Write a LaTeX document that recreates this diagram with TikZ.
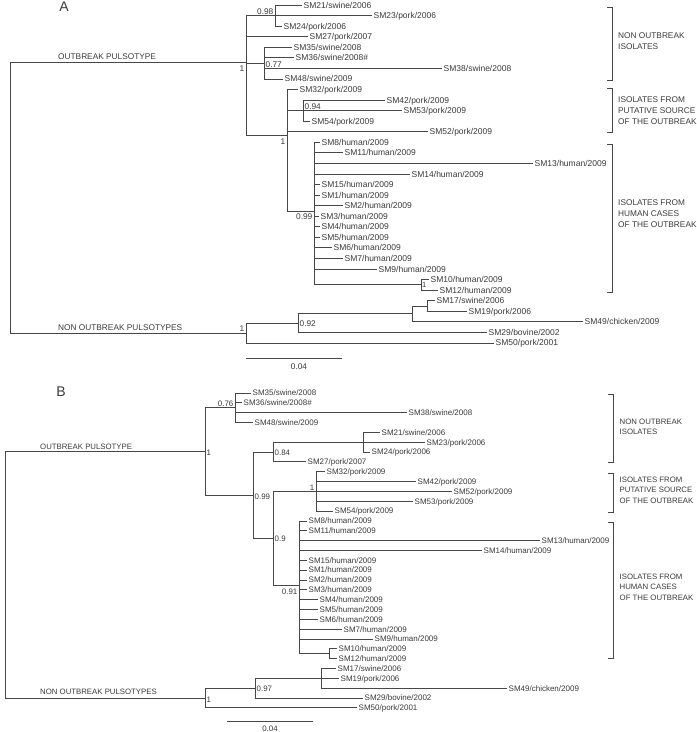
\documentclass[tikz,border=0pt]{standalone}
\usepackage{fontspec}
\setmainfont{Liberation Sans}
\definecolor{ink}{HTML}{3A3A3A}
\definecolor{lnc}{HTML}{474747}
\newcommand\lfa[5]{\node[lfA] (#1) at (#3,#4) {#5}; \draw[br] (#2 |- #1.west) -- (#1.west);}
\newcommand\lfb[5]{\node[lfB] (#1) at (#3,#4) {#5}; \draw[br] (#2 |- #1.west) -- (#1.west);}
\begin{document}
\begin{tikzpicture}[x=1pt,y=-1pt,
 br/.style={draw=lnc, line width=0.8pt},
 lfA/.style={anchor=west, inner xsep=1.5pt, inner ysep=0pt, text=ink, font=\fontsize{8.5}{10}\selectfont, text height=6.1pt, text depth=0pt},
 lfB/.style={lfA, font=\fontsize{8}{9.5}\selectfont, text height=5.7pt},
 supA/.style={inner sep=0pt, text=ink, font=\fontsize{8.3}{10}\selectfont},
 supB/.style={supA, font=\fontsize{7.9}{9.5}\selectfont},
 grpA/.style={anchor=west, inner sep=0pt, align=left, text=ink, font=\fontsize{8.3}{11}\selectfont},
 grpB/.style={grpA, font=\fontsize{7.8}{10.4}\selectfont},
 pulA/.style={anchor=west, inner sep=0pt, text=ink, font=\fontsize{8.3}{10}\selectfont, text height=5.9pt, text depth=0pt},
 pulB/.style={pulA, font=\fontsize{7.8}{10}\selectfont, text height=5.6pt},
 panel/.style={inner sep=0pt, text=ink, font=\fontsize{14}{16}\selectfont}
]
\useasboundingbox (0,0) rectangle (697,732);

% ================= PANEL A =================
\node[panel] (labA) at (64,7) {A};

\coordinate (aR) at (10,197.9);
\coordinate (aO) at (246,62.78);
\coordinate (a98) at (275,15.56);
\coordinate (a77) at (264,63.08);
\coordinate (a1) at (287,135.78);
\coordinate (a94) at (303,110.6);
\coordinate (a99) at (314,211.30);
\coordinate (a1b) at (421,284.84);
\coordinate (aN) at (246,333.02);
\coordinate (a92) at (298,323.12);
\coordinate (a412) at (412,313.88);
\coordinate (a427) at (427,305.96);

\lfa{aSM21}{a98}{302}{5.00}{SM21/swine/2006}
\lfa{aSM23}{a98}{372}{15.56}{SM23/pork/2006}
\lfa{aSM24}{a98}{282}{26.12}{SM24/pork/2006}
\lfa{aSM27}{aO}{308}{36.68}{SM27/pork/2007}
\lfa{aSM35}{a77}{292}{47.24}{SM35/swine/2008}
\lfa{aSM36}{a77}{294}{57.80}{SM36/swine/2008\#}
\lfa{aSM38}{a77}{442}{68.36}{SM38/swine/2008}
\lfa{aSM48}{a77}{283}{78.92}{SM48/swine/2009}
\lfa{aSM32}{a1}{298}{89.48}{SM32/pork/2009}
\lfa{aSM42}{a94}{385}{100.04}{SM42/pork/2009}
\lfa{aSM53}{a94}{402}{110.60}{SM53/pork/2009}
\lfa{aSM54}{a94}{310}{121.16}{SM54/pork/2009}
\lfa{aSM52}{a1}{428}{131.72}{SM52/pork/2009}
\lfa{aSM8}{a99}{320}{142.28}{SM8/human/2009}
\lfa{aSM11}{a99}{343}{152.84}{SM11/human/2009}
\lfa{aSM13}{a99}{533}{163.40}{SM13/human/2009}
\lfa{aSM14}{a99}{410}{173.96}{SM14/human/2009}
\lfa{aSM15}{a99}{320}{184.52}{SM15/human/2009}
\lfa{aSM1}{a99}{320}{195.08}{SM1/human/2009}
\lfa{aSM2}{a99}{343}{205.64}{SM2/human/2009}
\lfa{aSM3}{a99}{319}{216.20}{SM3/human/2009}
\lfa{aSM4}{a99}{320}{226.76}{SM4/human/2009}
\lfa{aSM5}{a99}{320}{237.32}{SM5/human/2009}
\lfa{aSM6}{a99}{332}{247.88}{SM6/human/2009}
\lfa{aSM7}{a99}{343}{258.44}{SM7/human/2009}
\lfa{aSM9}{a99}{377}{269.00}{SM9/human/2009}
\lfa{aSM10}{a1b}{429}{279.56}{SM10/human/2009}
\lfa{aSM12}{a1b}{438}{290.12}{SM12/human/2009}
\lfa{aSM17}{a427}{435}{300.68}{SM17/swine/2006}
\lfa{aSM19}{a427}{467}{311.24}{SM19/pork/2006}
\lfa{aSM49}{a412}{583}{321.80}{SM49/chicken/2009}
\lfa{aSM29}{a92}{487}{332.36}{SM29/bovine/2002}
\lfa{aSM50}{aN}{494}{342.92}{SM50/pork/2001}

% verticals
\draw[br] (aR |- aO) -- (aR |- aN);
\draw[br] (aO |- a98) -- (aO |- a1);
\draw[br] (a98 |- aSM21.west) -- (a98 |- aSM24.west);
\draw[br] (a77 |- aSM35.west) -- (a77 |- aSM48.west);
\draw[br] (a1 |- aSM32.west) -- (a1 |- a99);
\draw[br] (a94 |- aSM42.west) -- (a94 |- aSM54.west);
\draw[br] (a99 |- aSM8.west) -- (a99 |- a1b);
\draw[br] (a1b |- aSM10.west) -- (a1b |- aSM12.west);
\draw[br] (aN |- a92) -- (aN |- aSM50.west);
\draw[br] (a92 |- a412) -- (a92 |- aSM29.west);
\draw[br] (a412 |- a427) -- (a412 |- aSM49.west);
\draw[br] (a427 |- aSM17.west) -- (a427 |- aSM19.west);
% horizontals
\draw[br] (aR |- aO) -- (aO);
\draw[br] (aR |- aN) -- (aN);
\draw[br] (aO |- a98) -- (a98);
\draw[br] (aO |- a77) -- (a77);
\draw[br] (aO |- a1) -- (a1);
\draw[br] (a1 |- a94) -- (a94);
\draw[br] (a1 |- a99) -- (a99);
\draw[br] (a99 |- a1b) -- (a1b);
\draw[br] (aN |- a92) -- (a92);
\draw[br] (a92 |- a412) -- (a412);
\draw[br] (a412 |- a427) -- (a427);

% supports
\node[supA, anchor=south east] (sa98) at (273.5,14.8) {0.98};
\node[supA, anchor=north east] (saO) at (244.5,66) {1};
\node[supA, anchor=south west] (sa77) at (265.5,67.3) {0.77};
\node[supA, anchor=north east] (sa1) at (285.5,139) {1};
\node[supA, anchor=south west] (sa94) at (304.5,109.6) {0.94};
\node[supA, anchor=north east] (sa99) at (312.5,213.5) {0.99};
\node[supA, anchor=west, font=\fontsize{7.5}{9}\selectfont] (sa1b) at (422,285.2) {1};
\node[supA, anchor=south east] (saN) at (244.5,331.8) {1};
\node[supA, anchor=west] (sa92) at (299.5,323.8) {0.92};

% pulsotype labels
\node[pulA] (paO) at (58,57) {OUTBREAK PULSOTYPE};
\node[pulA] (paN) at (58,327.5) {NON OUTBREAK PULSOTYPES};

% scale bar
\coordinate (sbA1) at (246,358);
\coordinate (sbA2) at (342,358);
\draw[br] (sbA1) -- (sbA2);
\node[supA] (sbAt) at (299,366.5) {0.04};

% brackets
\draw[br] (607,7) -- (612,7) -- (612,80) -- (607,80);
\draw[br] (607,88) -- (612,88) -- (612,132) -- (607,132);
\draw[br] (607,144) -- (612,144) -- (612,292) -- (607,292);
\node[grpA] (gA1) at (618,41) {NON OUTBREAK\\ISOLATES};
\node[grpA] (gA2) at (618,110.3) {ISOLATES FROM\\PUTATIVE SOURCE\\OF THE OUTBREAK};
\node[grpA] (gA3) at (618,213.8) {ISOLATES FROM\\HUMAN CASES\\OF THE OUTBREAK};

% ================= PANEL B =================
\node[panel] (labB) at (61,392) {B};

\coordinate (bR) at (5,574.8);
\coordinate (bO) at (205,451.47);
\coordinate (b76) at (235,407.76);
\coordinate (b99) at (253,495.18);
\coordinate (b84) at (273,452.04);
\coordinate (b2124) at (363,442.2);
\coordinate (b9) at (273,538.32);
\coordinate (b1) at (316,491.4);
\coordinate (b91) at (299,585.23);
\coordinate (b1012) at (329,653.76);
\coordinate (bN) at (205,698.04);
\coordinate (b97) at (255,688.2);
\coordinate (b17) at (321,678.36);

\lfb{bSM35}{b76}{251}{393.00}{SM35/swine/2008}
\lfb{bSM36}{b76}{242}{402.84}{SM36/swine/2008\#}
\lfb{bSM38}{b76}{407}{412.68}{SM38/swine/2008}
\lfb{bSM48}{b76}{253}{422.52}{SM48/swine/2009}
\lfb{bSM21}{b2124}{380}{432.36}{SM21/swine/2006}
\lfb{bSM23}{b2124}{425}{442.20}{SM23/pork/2006}
\lfb{bSM24}{b2124}{370}{452.04}{SM24/pork/2006}
\lfb{bSM27}{b84}{306}{461.88}{SM27/pork/2007}
\lfb{bSM32}{b1}{325}{471.72}{SM32/pork/2009}
\lfb{bSM42}{b1}{416}{481.56}{SM42/pork/2009}
\lfb{bSM52}{b1}{452}{491.40}{SM52/pork/2009}
\lfb{bSM53}{b1}{413}{501.24}{SM53/pork/2009}
\lfb{bSM54}{b1}{333}{511.08}{SM54/pork/2009}
\lfb{bSM8}{b91}{307}{520.92}{SM8/human/2009}
\lfb{bSM11}{b91}{307}{530.76}{SM11/human/2009}
\lfb{bSM13}{b91}{540}{540.60}{SM13/human/2009}
\lfb{bSM14}{b91}{482}{550.44}{SM14/human/2009}
\lfb{bSM15}{b91}{307}{560.28}{SM15/human/2009}
\lfb{bSM1}{b91}{307}{570.12}{SM1/human/2009}
\lfb{bSM2}{b91}{307}{579.96}{SM2/human/2009}
\lfb{bSM3}{b91}{307}{589.80}{SM3/human/2009}
\lfb{bSM4}{b91}{318}{599.64}{SM4/human/2009}
\lfb{bSM5}{b91}{318}{609.48}{SM5/human/2009}
\lfb{bSM6}{b91}{318}{619.32}{SM6/human/2009}
\lfb{bSM7}{b91}{342}{629.16}{SM7/human/2009}
\lfb{bSM9}{b91}{373}{639.00}{SM9/human/2009}
\lfb{bSM10}{b1012}{337}{648.84}{SM10/human/2009}
\lfb{bSM12}{b1012}{337}{658.68}{SM12/human/2009}
\lfb{bSM17}{b17}{336}{668.52}{SM17/swine/2006}
\lfb{bSM19}{b17}{339}{678.36}{SM19/pork/2006}
\lfb{bSM49}{b17}{507}{688.20}{SM49/chicken/2009}
\lfb{bSM29}{b97}{363}{698.04}{SM29/bovine/2002}
\lfb{bSM50}{bN}{357}{707.88}{SM50/pork/2001}

% verticals
\draw[br] (bR |- bO) -- (bR |- bN);
\draw[br] (bO |- b76) -- (bO |- b99);
\draw[br] (b76 |- bSM35.west) -- (b76 |- bSM48.west);
\draw[br] (b99 |- b84) -- (b99 |- b9);
\draw[br] (b84 |- b2124) -- (b84 |- bSM27.west);
\draw[br] (b2124 |- bSM21.west) -- (b2124 |- bSM24.west);
\draw[br] (b9 |- b1) -- (b9 |- b91);
\draw[br] (b1 |- bSM32.west) -- (b1 |- bSM54.west);
\draw[br] (b91 |- bSM8.west) -- (b91 |- b1012);
\draw[br] (b1012 |- bSM10.west) -- (b1012 |- bSM12.west);
\draw[br] (bN |- b97) -- (bN |- bSM50.west);
\draw[br] (b97 |- b17) -- (b97 |- bSM29.west);
\draw[br] (b17 |- bSM17.west) -- (b17 |- bSM49.west);
% horizontals
\draw[br] (bR |- bO) -- (bO);
\draw[br] (bR |- bN) -- (bN);
\draw[br] (bO |- b76) -- (b76);
\draw[br] (bO |- b99) -- (b99);
\draw[br] (b99 |- b84) -- (b84);
\draw[br] (b99 |- b9) -- (b9);
\draw[br] (b84 |- b2124) -- (b2124);
\draw[br] (b9 |- b1) -- (b1);
\draw[br] (b9 |- b91) -- (b91);
\draw[br] (b91 |- b1012) -- (b1012);
\draw[br] (bN |- b97) -- (b97);
\draw[br] (b97 |- b17) -- (b17);

% supports
\node[supB, anchor=south east] (sb76) at (233.5,406.8) {0.76};
\node[supB, anchor=west] (sbO) at (206.5,452.5) {1};
\node[supB, anchor=west] (sb84) at (274.5,452.5) {0.84};
\node[supB, anchor=west] (sb99) at (254.5,496.5) {0.99};
\node[supB, anchor=south east] (sb1) at (314.5,490.4) {1};
\node[supB, anchor=west] (sb9) at (274.5,539) {0.9};
\node[supB, anchor=north east] (sb91) at (297.5,589) {0.91};
\node[supB, anchor=west] (sb97) at (256.5,688.6) {0.97};
\node[supB, anchor=west] (sbN) at (206.5,699.5) {1};

% pulsotype labels
\node[pulB] (pbO) at (40,446.5) {OUTBREAK PULSOTYPE};
\node[pulB] (pbN) at (40,692) {NON OUTBREAK PULSOTYPES};

% scale bar
\coordinate (sbB1) at (227,721);
\coordinate (sbB2) at (313,721);
\draw[br] (sbB1) -- (sbB2);
\node[supB] (sbBt) at (270,729) {0.04};

% brackets
\draw[br] (608,394) -- (613,394) -- (613,462) -- (608,462);
\draw[br] (608,473) -- (613,473) -- (613,512) -- (608,512);
\draw[br] (608,522) -- (613,522) -- (613,658) -- (608,658);
\node[grpB] (gB1) at (619.5,427) {NON OUTBREAK\\ISOLATES};
\node[grpB] (gB2) at (619.5,490) {ISOLATES FROM\\PUTATIVE SOURCE\\OF THE OUTBREAK};
\node[grpB] (gB3) at (619.5,587) {ISOLATES FROM\\HUMAN CASES\\OF THE OUTBREAK};
\end{tikzpicture}
\end{document}
